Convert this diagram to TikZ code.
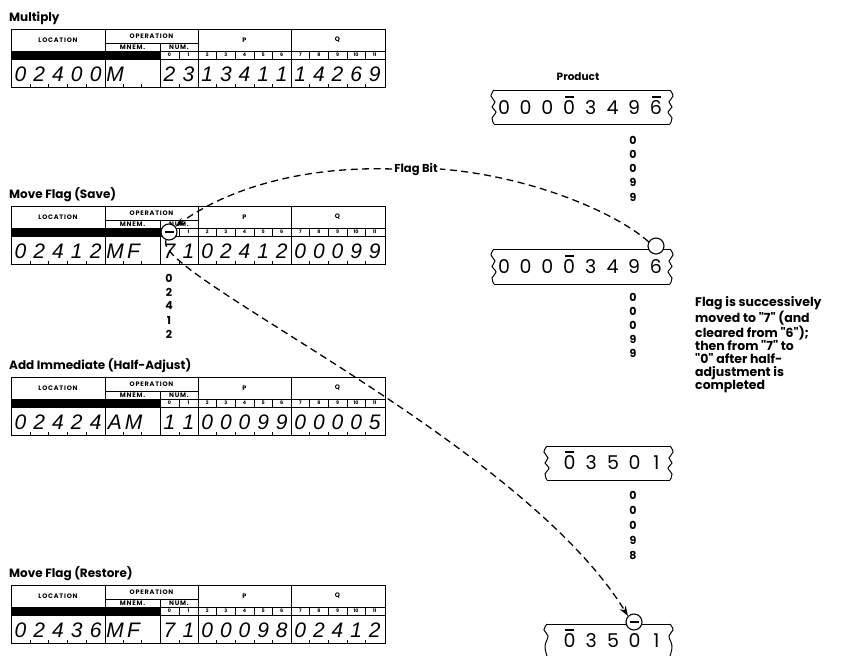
\documentclass[tikz,border=0pt]{standalone}
\usepackage{fontspec}
\newfontfamily\fut{Poppins}
\newfontfamily\futwide[LetterSpace=12]{Poppins}
\newfontfamily\hand{Liberation Sans}
\usetikzlibrary{arrows.meta}
\tikzset{
 formline/.style={line width=0.9pt},
 thinline/.style={line width=0.6pt},
 stripline/.style={line width=1pt},
 formtitle/.style={font=\fut\bfseries\fontsize{12}{14}\selectfont, inner sep=0pt},
 hdr/.style={font=\futwide\bfseries\fontsize{6.5}{7}\selectfont, inner sep=0pt},
 smallnum/.style={font=\fut\bfseries\fontsize{4.8}{5}\selectfont, inner sep=0pt},
 hand/.style={font=\hand\itshape\fontsize{21}{21}\selectfont, inner sep=0pt},
 stripdig/.style={font=\fut\fontsize{19}{19}\selectfont, inner sep=0pt},
 coldig/.style={font=\fut\bfseries\fontsize{11}{11}\selectfont, inner sep=0pt},
 labeltext/.style={font=\fut\bfseries\fontsize{12.5}{13.2}\selectfont, inner sep=0pt, align=left},
 flagdash/.style={dash pattern=on 7pt off 4.5pt, line width=1.3pt},
 flagcirc/.style={circle, draw, line width=1.1pt, fill=white, minimum size=16pt, inner sep=0pt},
 overbar/.style={line width=1.3pt},
}
\newcommand{\ibmform}[8]{%
 \node[formtitle, anchor=base west] (#1title) at (9,#2-8) {#3};
 \fill[black] (11,#2+22) rectangle (160,#2+30);
 \draw[formline] (11,#2) rectangle (385,#2+58);
 \draw[formline] (105,#2) -- (105,#2+58) (198,#2) -- (198,#2+58) (291,#2) -- (291,#2+58);
 \draw[formline] (105,#2+14) -- (198,#2+14);
 \draw[formline] (160,#2+14) -- (160,#2+58);
 \draw[formline] (160,#2+22) -- (385,#2+22);
 \draw[formline] (11,#2+30) -- (385,#2+30);
 \draw[thinline] (179,#2+22) -- (179,#2+30);
 \foreach \k in {1,...,4} {
   \draw[thinline] (198+\k*18.6,#2+22) -- (198+\k*18.6,#2+30);
   \draw[thinline] (291+\k*18.6,#2+22) -- (291+\k*18.6,#2+30);
   \draw[thinline] (198+\k*18.6,#2+58) -- (198+\k*18.6,#2+55);
   \draw[thinline] (291+\k*18.6,#2+58) -- (291+\k*18.6,#2+55);
   \draw[thinline] (11+\k*18.8,#2+58) -- (11+\k*18.8,#2+55);
 }
 \draw[thinline] (179,#2+58) -- (179,#2+55) (123.3,#2+58) -- (123.3,#2+55) (141.6,#2+58) -- (141.6,#2+55);
 \node[hdr] (#1loc) at (58,#2+11) {LOCATION};
 \node[hdr] (#1op) at (151.5,#2+7) {OPERATION};
 \node[hdr] (#1mnem) at (132.5,#2+18) {MNEM.};
 \node[hdr] (#1num) at (179,#2+18) {NUM.};
 \node[hdr] (#1p) at (244.5,#2+11) {P};
 \node[hdr] (#1q) at (337.5,#2+11) {Q};
 \node[smallnum] (#1n0) at (169.5,#2+26) {0};
 \node[smallnum] (#1n1) at (188.5,#2+26) {1};
 \foreach \s [count=\i from 0] in {2,...,6} {\node[smallnum] (#1s\s) at (207.3+\i*18.6,#2+26) {\s};}
 \foreach \s [count=\i from 0] in {7,...,11} {\node[smallnum] (#1s\s) at (300.3+\i*18.6,#2+26) {\s};}
 \foreach \d [count=\i from 0] in {#4} {\node[hand] (#1l\i) at (20.4+\i*18.8,#2+45) {\d};}
 \foreach \d [count=\i from 0] in {#5} {\node[hand] (#1m\i) at (115+\i*18.6,#2+45) {\d};}
 \foreach \d [count=\i from 0] in {#6} {\node[hand] (#1u\i) at (169.5+\i*19,#2+45) {\d};}
 \foreach \d [count=\i from 0] in {#7} {\node[hand] (#1p\i) at (207.3+\i*18.6,#2+45) {\d};}
 \foreach \d [count=\i from 0] in {#8} {\node[hand] (#1q\i) at (300.3+\i*18.6,#2+45) {\d};}
}
\newcommand{\leftwave}[3]{%
 \draw[stripline] plot[smooth, tension=0.7] coordinates {(#1,#2) (#1-3,#2+6) (#1+1,#2+12) (#1-2,{0.5*#2+0.5*#3}) (#1+2,#3-12) (#1-2,#3-6) (#1,#3)};}
\newcommand{\rightwave}[3]{%
 \draw[stripline] plot[smooth, tension=0.7] coordinates {(#1,#2) (#1+3,#2+6) (#1-1,#2+12) (#1+2,{0.5*#2+0.5*#3}) (#1-2,#3-12) (#1+2,#3-6) (#1,#3)};}
\newcommand{\tapestrip}[4]{%
 \draw[stripline] (#1,#3) -- (#2,#3) (#1,#4) -- (#2,#4);
 \leftwave{#1}{#3}{#4}\rightwave{#2}{#3}{#4}}
\begin{document}
\begin{tikzpicture}[x=1pt,y=-1pt]
\useasboundingbox (0,0) rectangle (849,656);
\fill[white] (0,0) rectangle (849,656);

% forms
\ibmform{fa}{29}{Multiply}{0,2,4,0,0}{M}{2,3}{1,3,4,1,1}{1,4,2,6,9}
\ibmform{fb}{206}{Move Flag (Save)}{0,2,4,1,2}{M,F}{7,1}{0,2,4,1,2}{0,0,0,9,9}
\ibmform{fc}{377}{Add Immediate (Half-Adjust)}{0,2,4,2,4}{A,M}{1,1}{0,0,0,9,9}{0,0,0,0,5}
\ibmform{fd}{585}{Move Flag (Restore)}{0,2,4,3,6}{M,F}{7,1}{0,0,0,9,8}{0,2,4,1,2}

% column under save form
\foreach \d [count=\i from 0] in {0,2,4,1,2} {\node[coldig] (colS\i) at (169,278+\i*14) {\d};}

% Product strips
\node[font=\fut\bfseries\fontsize{10.5}{11}\selectfont, inner sep=0pt] (prodlabel) at (578,77) {Product};
\tapestrip{494}{670}{90}{124}
\foreach \d [count=\i from 0] in {0,0,0,0,3,4,9,6} {\node[stripdig] (sa\i) at (504+\i*21.7,108) {\d};}
\draw[overbar] (565,97) -- (574,97) (652,97) -- (661,97);
\foreach \d [count=\i from 0] in {0,0,0,9,9} {\node[coldig] (colA\i) at (633,140+\i*14.3) {\d};}

\tapestrip{494}{670}{249}{284}
\foreach \d [count=\i from 0] in {0,0,0,0,3,4,9,6} {\node[stripdig] (sb\i) at (504+\i*21.7,267) {\d};}
\draw[overbar] (565,256) -- (574,256);
\foreach \d [count=\i from 0] in {0,0,0,9,9} {\node[coldig] (colB\i) at (633,297+\i*14.2) {\d};}

\tapestrip{547}{670}{446}{480}
\foreach \d [count=\i from 0] in {0,3,5,0,1} {\node[stripdig] (sc\i) at (569.6+\i*21.7,463) {\d};}
\draw[overbar] (565,452) -- (574,452);
\foreach \d [count=\i from 0] in {0,0,0,9,8} {\node[coldig] (colC\i) at (633,495+\i*15) {\d};}

\draw[stripline] (547,624) -- (670,624);
\draw[stripline] plot[smooth, tension=0.7] coordinates {(547,624) (544,630) (548,636) (545,646) (547,656)};
\draw[stripline] plot[smooth, tension=0.7] coordinates {(670,624) (673,630) (669,636) (672,646) (670,656)};
\foreach \d [count=\i from 0] in {0,3,5,0,1} {\node[stripdig] (sd\i) at (569.6+\i*21.7,641) {\d};}
\draw[overbar] (565,630) -- (574,630);

% flag circles
\node[flagcirc] (c1) at (169,232) {\rule[-1.1pt]{9pt}{2.2pt}};
\node[flagcirc] (c2) at (656,246) {};
\node[flagcirc] (c4) at (634,622) {\rule[-1.1pt]{9pt}{2.2pt}};

% Flag bit label and dashed connectors
\node[font=\fut\bfseries\fontsize{11.5}{12}\selectfont, inner sep=2pt] (flagbit) at (416,169) {Flag Bit};
\draw[flagdash] (c2.150) .. controls (615,212) and (530,176) .. (flagbit.east);
\draw[flagdash, -{Stealth[length=10pt,width=7pt]}] (flagbit.west) .. controls (300,166) and (225,190) .. (c1.40);
\draw[flagdash, -{Stealth[length=10pt,width=7pt]}] (c1.250) .. controls (148,272) and (520,440) .. (c4.135);

% explanation
\node[labeltext, anchor=north west] (note) at (695,296) {Flag is successively\\moved to "7" (and\\cleared from "6");\\then from "7" to\\"0" after half-\\adjustment is\\completed};
\end{tikzpicture}
\end{document}
